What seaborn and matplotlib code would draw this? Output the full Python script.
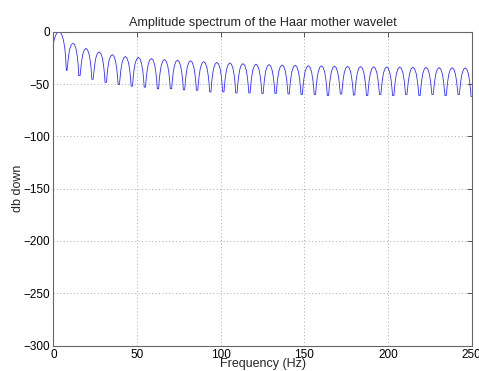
import numpy as np
import pandas as pd
import matplotlib
matplotlib.use("Agg")
import matplotlib.pyplot as plt
import seaborn as sns

# ---- data ----
# first lobe (starts at 0 Hz, not at a notch)
first_lobe_freq = [0.0, 0.8, 1.6, 2.5, 3.4, 4.4, 5.3, 6.1, 6.8, 7.3, 7.8]
first_lobe_db = [-11.0, -6.0, -2.8, -0.7, 0.0, -1.0, -3.8, -8.5, -15.0, -23.0, -37.0]

# notch positions (Hz) and notch depths (dB)
notch_freq = [7.8, 15.6, 23.4, 31.3, 39.1, 46.9, 54.7, 62.5, 70.3, 78.1,
              85.9, 93.8, 101.6, 109.4, 117.2, 125.0, 132.8, 140.6, 148.4, 156.3,
              164.1, 171.9, 179.7, 187.5, 195.3, 203.1, 210.9, 218.8, 226.6, 234.4,
              242.2, 250.0]
notch_db = [-37.0, -42.0, -45.5, -48.5, -50.5, -52.0, -53.0, -54.5, -54.5, -55.5,
            -56.0, -57.5, -57.5, -58.5, -58.5, -59.0, -59.0, -59.5, -60.0, -60.0,
            -61.0, -59.5, -60.5, -61.0, -60.0, -61.0, -60.0, -61.0, -60.0, -61.0,
            -60.0, -62.0]

# peak level of lobes 2..32 (dB)
peak_db = [-11.0, -16.0, -19.3, -21.9, -23.7, -24.6, -25.6, -26.6, -27.2, -27.8,
           -28.6, -29.3, -29.8, -30.5, -31.0, -31.4, -31.8, -32.1, -32.5, -32.6,
           -32.9, -33.1, -33.3, -33.5, -33.7, -33.8, -34.0, -34.1, -34.3, -34.4,
           -34.5]

# shape of a typical lobe: position across the lobe
# (fraction of lobe width) and level below the lobe peak (dB)
lobe_frac = [0.05, 0.10, 0.16, 0.25, 0.37, 0.50, 0.63, 0.75, 0.84, 0.90, 0.95]
lobe_drop = [-32.0, -20.0, -13.0, -6.0, -1.5, 0.0, -1.5, -6.0, -13.0, -20.0, -32.0]

x_ticks = [0, 50, 100, 150, 200, 250]
y_ticks = [-300, -250, -200, -150, -100, -50, 0]

# ---- assemble curve points ----
fx = list(first_lobe_freq)
fy = list(first_lobe_db)
for i, pk in enumerate(peak_db):
    left_f, right_f = notch_freq[i], notch_freq[i + 1]
    left_d, right_d = notch_db[i], notch_db[i + 1]
    w = right_f - left_f
    for fr, dr in zip(lobe_frac, lobe_drop):
        floor = left_d if fr < 0.5 else right_d
        fx.append(left_f + fr * w)
        fy.append(max(pk + dr, floor))
    fx.append(right_f)
    fy.append(right_d)

df = pd.DataFrame({"Frequency (Hz)": fx, "db down": fy})

sns.set_style("white")
plt.rcParams["font.family"] = ["Liberation Sans", "DejaVu Sans"]

fig = plt.figure(figsize=(4.79, 3.71), dpi=100)
ax = fig.add_axes([0.1113, 0.0687, 0.8735, 0.8458])

sns.lineplot(data=df, x="Frequency (Hz)", y="db down", ax=ax,
             color="#3030ff", linewidth=0.6, sort=False, estimator=None)

ax.set_xlim(0, 250)
ax.set_ylim(-300, 0)
ax.set_xticks(x_ticks)
ax.set_yticks(y_ticks)
ax.grid(True, linestyle=(0, (1, 2.5)), color="#aaaaaa", linewidth=0.7)
ax.tick_params(direction="in", top=True, right=True, length=3.5, width=0.7,
               colors="#555555", labelcolor="black", labelsize=8.5, pad=2.5)
for s in ax.spines.values():
    s.set_visible(True)
    s.set_color("#666666")
    s.set_linewidth(0.8)

ax.set_title("Amplitude spectrum of the Haar mother wavelet", fontsize=9.1, pad=4)
ax.set_xlabel("Frequency (Hz)", fontsize=9, labelpad=-2.5)
ax.set_ylabel("db down", fontsize=9)
ax.yaxis.set_label_coords(-0.070, 0.5)

fig.savefig("out.png", dpi=100)
